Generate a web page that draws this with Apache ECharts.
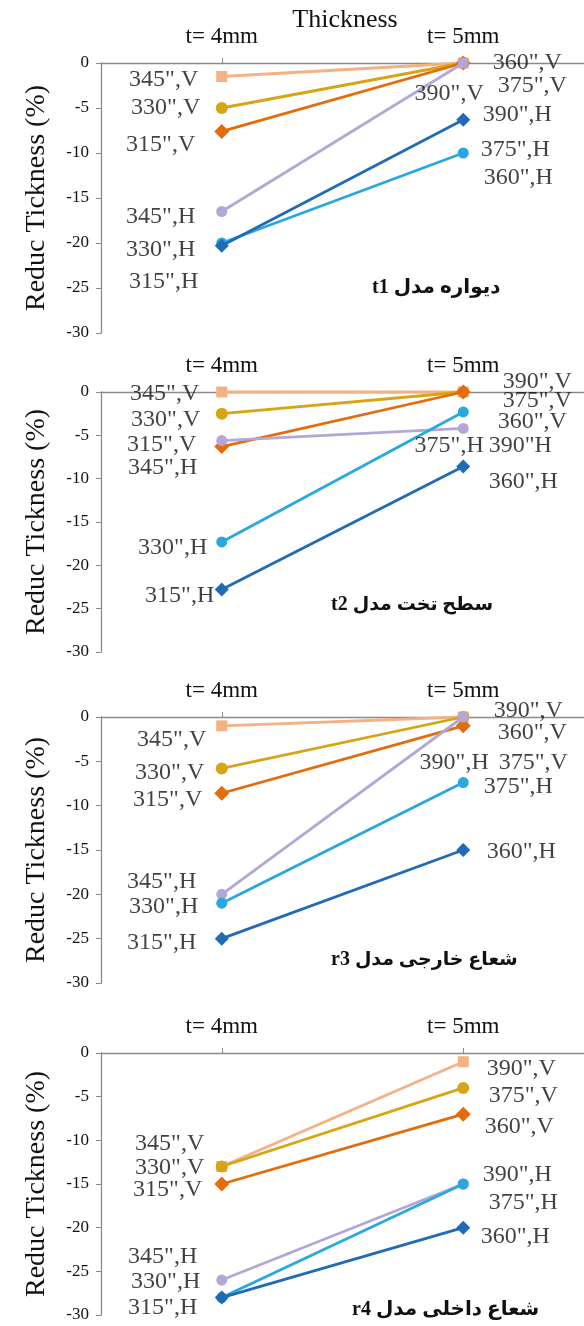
<!DOCTYPE html>
<html>
<head>
<meta charset="utf-8">
<script src="https://cdn.jsdelivr.net/npm/echarts@6/dist/echarts.min.js"></script>
<style>
html,body{margin:0;padding:0;background:#fff;}
#c{width:584px;height:1326px;}
</style>
</head>
<body>
<div id="c"></div>
<script>
// ---------- data ----------
const categories = ['t= 4mm', 't= 5mm'];
const seriesKeys = ['peach', 'gold', 'orange', 'lavender', 'lightblue', 'darkblue'];

// values at t=4mm and t=5mm, per panel, in series order above
const t1_4mm = [-1.5, -5, -7.6, -16.5, -20, -20.3];
const t1_5mm = [0, 0, 0, 0, -10, -6.3];
const t2_4mm = [0, -2.5, -6.3, -5.6, -17.3, -22.8];
const t2_5mm = [0, 0, 0, -4.2, -2.3, -8.6];
const r3_4mm = [-1, -5.8, -8.6, -20, -21, -25];
const r3_5mm = [0, 0, -1, 0, -7.4, -15];
const r4_4mm = [-13, -13, -15, -26, -28, -28];
const r4_5mm = [-1, -4, -7, -15, -15, -20];

const yTicks = [0, -5, -10, -15, -20, -25, -30];

// point label texts
const leftLabels = ['345",V', '330",V', '315",V', '345",H', '330",H', '315",H'];
const t1_rightLabels = ['360",V', '375",V', '390",V', '390",H', '375",H', '360",H'];
const t2_rightLabels = ['390",V', '375",V', '360",V', '375",H', '390"H', '360",H'];
const r3_rightLabels = ['390",V', '360",V', '390",H', '375",V', '375",H', '360",H'];
const r4_rightLabels = ['390",V', '375",V', '360",V', '390",H', '375",H', '360",H'];

// ---------- layout / style ----------
const colors = ['#F4B183', '#D6A415', '#E46C0A', '#B4A7D6', '#29A8E0', '#1F6BB5'];
const symbols = ['rect', 'circle', 'diamond', 'circle', 'circle', 'diamond'];
const symbolSizes = [11, 12, 15, 11, 11, 14];

// label anchors: y in axis units, horizontal pixel offset from point, alignment
const labelLayout = [
  { // t1
    left: { y: [-1.9, -5, -9.1, -17.1, -20.8, -24.4], dx: [-23, -21, -26, -26, -26, -23] },
    right: { y: [0, -2.6, -3.5, -5.8, -9.7, -12.8], dx: [30, 35, 21, 20, 18, 21],
             al: ['left', 'left', 'right', 'left', 'left', 'left'] }
  },
  { // t2
    left: { y: [-0.3, -3.2, -6.1, -8.8, -18, -23.6], dx: [-22, -21, -25, -24, -14, -7] },
    right: { y: [1.1, -1.1, -3.5, -6.3, -6.3, -10.4], dx: [40, 40, 35, 21, 26, 26],
             al: ['left', 'left', 'left', 'right', 'left', 'left'] }
  },
  { // r3
    left: { y: [-2.6, -6.3, -9.4, -18.6, -21.5, -25.5], dx: [-15, -17, -19, -25, -23, -25] },
    right: { y: [0.6, -1.8, -5.2, -5.2, -7.9, -15.3], dx: [31, 35, 26, 36, 21, 24],
             al: ['left', 'left', 'right', 'left', 'left', 'left'] }
  },
  { // r4
    left: { y: [-10.5, -13.2, -15.7, -23.4, -26.2, -29.2], dx: [-17, -17, -19, -24, -21, -24] },
    right: { y: [-1.9, -5, -8.5, -14, -17.2, -21.1], dx: [24, 26, 22, 20, 26, 18],
             al: ['left', 'left', 'left', 'left', 'left', 'left'] }
  }
];

const panels = [
  { v4: t1_4mm, v5: t1_5mm, right: t1_rightLabels },
  { v4: t2_4mm, v5: t2_5mm, right: t2_rightLabels },
  { v4: r3_4mm, v5: r3_5mm, right: r3_rightLabels },
  { v4: r4_4mm, v5: r4_5mm, right: r4_rightLabels }
];

const gridPos = [
  { top: 63, height: 270 },
  { top: 392, height: 260 },
  { top: 717, height: 266 },
  { top: 1053, height: 262 }
];

const SERIF = "'Liberation Serif', 'Times New Roman', serif";
const FA = "'Liberation Serif', 'DejaVu Sans', 'Noto Sans', sans-serif";
const axisColor = '#8a8a8a';

const grids = [], xAxes = [], yAxes = [], series = [];

panels.forEach((p, i) => {
  grids.push({ left: 101, width: 483, top: gridPos[i].top, height: gridPos[i].height });
  xAxes.push({
    gridIndex: i, type: 'category', position: 'top', data: categories, boundaryGap: true,
    axisLine: { show: true, onZero: false, lineStyle: { color: axisColor, width: 1.3 } },
    axisTick: { show: true, alignWithLabel: true, length: 5, lineStyle: { color: axisColor } },
    axisLabel: { fontFamily: SERIF, fontSize: 23, color: '#111', margin: 15 },
    splitLine: { show: false }
  });
  yAxes.push({
    gridIndex: i, type: 'value', min: yTicks[yTicks.length - 1], max: yTicks[0], interval: 5,
    axisLine: { show: true, lineStyle: { color: axisColor, width: 1.3 } },
    axisTick: { show: true, length: 5, lineStyle: { color: axisColor } },
    axisLabel: { fontFamily: SERIF, fontSize: 17, color: '#111', margin: 12 },
    splitLine: { show: false },
    name: 'Reduc Tickness (%)', nameLocation: 'middle', nameGap: 50, nameRotate: 90,
    nameTextStyle: { fontFamily: SERIF, fontSize: 28, color: '#111' }
  });

  seriesKeys.forEach((k, s) => {
    series.push({
      type: 'line', name: k, xAxisIndex: i, yAxisIndex: i,
      data: [p.v4[s], p.v5[s]],
      symbol: symbols[s], symbolSize: symbolSizes[s],
      lineStyle: { color: colors[s], width: 2.8 },
      itemStyle: { color: colors[s] },
      clip: false, silent: true, animation: false, z: 2 + s
    });
  });

  const L = labelLayout[i];
  const mkLabels = (side) => {
    const lay = L[side];
    const texts = side === 'left' ? leftLabels : p.right;
    const xi = side === 'left' ? 0 : 1;
    return lay.y.map((yv, j) => {
      const al = side === 'left' ? 'right' : lay.al[j];
      return {
        value: [xi, yv],
        label: {
          show: true, formatter: texts[j], position: [lay.dx[j], 0],
          align: al, verticalAlign: 'middle',
          fontFamily: SERIF, fontSize: 24, color: '#111'
        }
      };
    });
  };
  ['left', 'right'].forEach(side => {
    series.push({
      type: 'scatter', xAxisIndex: i, yAxisIndex: i,
      data: mkLabels(side), symbolSize: 1,
      itemStyle: { color: 'rgba(0,0,0,0)' },
      silent: true, animation: false, z: 20, clip: false
    });
  });
});

const titles = [
  { text: 'Thickness', left: 345, top: 7, textAlign: 'center', padding: 0,
    textStyle: { fontFamily: SERIF, fontSize: 26, fontWeight: 'normal', color: '#111' } },
  { text: '{b|t1} {b|دیواره مدل}', left: 372, top: 278, padding: 0,
    textStyle: { rich: { b: { fontFamily: FA, fontSize: 20, fontWeight: 'bold', color: '#111' } } } },
  { text: '{b|t2} {n|سطح تخت مدل}', left: 331, top: 595, padding: 0,
    textStyle: { rich: { b: { fontFamily: FA, fontSize: 20, fontWeight: 'bold', color: '#111' },
                         n: { fontFamily: FA, fontSize: 19, color: '#111' } } } },
  { text: '{b|r3} {n|شعاع خارجی مدل}', left: 331, top: 950, padding: 0,
    textStyle: { rich: { b: { fontFamily: FA, fontSize: 20, fontWeight: 'bold', color: '#111' },
                         n: { fontFamily: FA, fontSize: 19, color: '#111' } } } },
  { text: '{b|r4} {b|شعاع داخلی مدل}', left: 352, top: 1300, padding: 0,
    textStyle: { rich: { b: { fontFamily: FA, fontSize: 20, fontWeight: 'bold', color: '#111' } } } }
];

const chart = echarts.init(document.getElementById('c'), null, { renderer: 'canvas' });
chart.setOption({
  animation: false,
  backgroundColor: '#ffffff',
  title: titles,
  grid: grids,
  xAxis: xAxes,
  yAxis: yAxes,
  series: series
});
</script>
</body>
</html>
